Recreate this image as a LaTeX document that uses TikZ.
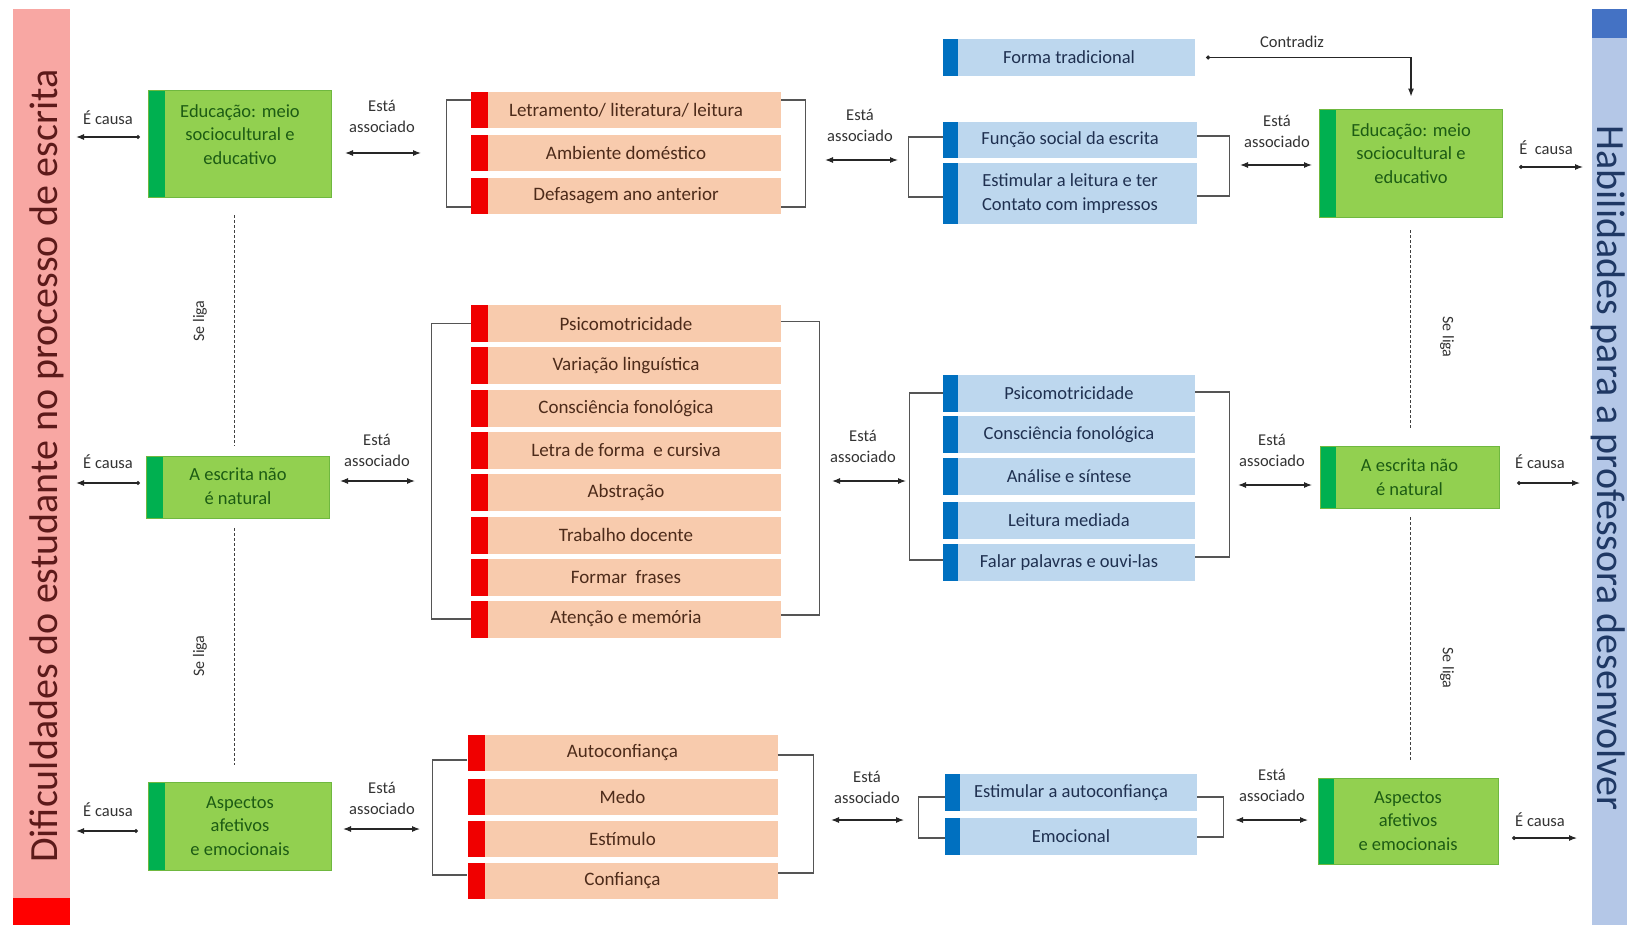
\documentclass[tikz,border=0pt]{standalone}
\usepackage{fontspec}
\setmainfont{Carlito}
\usetikzlibrary{arrows.meta,calc}
\definecolor{gfill}{HTML}{92D050}
\definecolor{gstripe}{HTML}{00B050}
\definecolor{gborder}{HTML}{6FB83F}
\definecolor{gtext}{HTML}{1D5C14}
\definecolor{rfill}{HTML}{F8CBAD}
\definecolor{rstripe}{HTML}{F00000}
\definecolor{rtext}{HTML}{4D2B1A}
\definecolor{bfill}{HTML}{BDD7EE}
\definecolor{bstripe}{HTML}{0070C0}
\definecolor{btext}{HTML}{1F3050}
\definecolor{pinkbar}{HTML}{F8A7A3}
\definecolor{redbar}{HTML}{FF0000}
\definecolor{ltxt}{HTML}{5C1A1A}
\definecolor{bluebar}{HTML}{B4C7E7}
\definecolor{bluetop}{HTML}{4472C4}
\definecolor{rtxt}{HTML}{1F3864}
\definecolor{lblc}{HTML}{333333}
\definecolor{brkc}{HTML}{555555}
\tikzset{
  gbox/.style={draw=gborder, line width=0.8pt, fill=gfill, minimum width=183pt, inner sep=0pt,
    path picture={\fill[gstripe] (path picture bounding box.north west) rectangle ([xshift=16pt]path picture bounding box.south west);}},
  gtxt/.style={text=gtext, align=center, font=\fontsize{18.5}{23.5}\selectfont, inner sep=0pt},
  rrow/.style={fill=rfill, text=rtext, minimum width=310pt, minimum height=36pt, inner sep=0pt,
    font=\fontsize{19}{23}\selectfont,
    path picture={\fill[rstripe] (path picture bounding box.north west) rectangle ([xshift=17pt]path picture bounding box.south west);}},
  brow/.style={fill=bfill, text=btext, minimum width=252pt, minimum height=37pt, inner sep=0pt, align=center,
    font=\fontsize{18.5}{24}\selectfont,
    path picture={\fill[bstripe] (path picture bounding box.north west) rectangle ([xshift=15pt]path picture bounding box.south west);}},
  lbl/.style={text=lblc, align=center, font=\fontsize{16.5}{21}\selectfont, inner sep=0pt},
  assoc/.style={{Latex[length=8pt,width=6pt]}-{Latex[length=8pt,width=6pt]}, line width=1.1pt, draw=black!85},
  causeL/.style={{Circle[length=4pt]}-{Latex[length=8pt,width=6pt]}, line width=1.1pt, draw=black!85},
  brk/.style={draw=brkc, line width=1.1pt},
  liga/.style={draw=black!75, line width=0.9pt, dash pattern=on 3pt off 2pt},
  ligatxt/.style={text=lblc, font=\fontsize{16}{19}\selectfont, inner sep=0pt},
}
\begin{document}
\begin{tikzpicture}[x=1pt,y=-1pt]
\useasboundingbox (0,0) rectangle (1627,925);
\fill[white] (0,0) rectangle (1627,925);
% side bars
\fill[pinkbar] (13,9) rectangle (70,898);
\fill[redbar] (13,898) rectangle (70,925);
\fill[bluebar] (1592,38) rectangle (1627,925);
\fill[bluetop] (1592,9) rectangle (1627,38);
\node[rotate=90, anchor=base, text=ltxt, font=\fontsize{40}{48}\selectfont, inner sep=0pt] (ltitle) at (57,466) {Dificuldades do estudante no processo de escrita};
\node[rotate=-90, anchor=base, text=rtxt, font=\fontsize{40}{48}\selectfont, inner sep=0pt] (rtitle) at (1597,468) {Habilidades para a professora desenvolver};

% left green boxes
\node[gbox, minimum height=107pt] (gA) at (240,143.5) {};
\node[gtxt] at ([yshift=9pt]gA.center) {Educação: meio\\sociocultural e\\educativo};
\node[gbox, minimum height=62pt] (gB) at (238,487) {};
\node[gtxt] at ([yshift=1pt]gB.center) {A escrita não\\é natural};
\node[gbox, minimum height=88pt] (gC) at (240,826) {};
\node[gtxt] at (gC.center) {Aspectos\\afetivos\\e emocionais};

% right green boxes
\node[gbox, minimum height=108pt] (hA) at (1411,163) {};
\node[gtxt] at ([yshift=9.5pt]hA.center) {Educação: meio\\sociocultural e\\educativo};
\node[gbox, minimum width=179pt, minimum height=62pt] (hB) at (1409.5,477) {};
\node[gtxt] at (hB.center) {A escrita não\\é natural};
\node[gbox, minimum width=180pt, minimum height=86pt] (hC) at (1408,821) {};
\node[gtxt] at (hC.center) {Aspectos\\afetivos\\e emocionais};

% red lists
\node[rrow] (r11) at (626,110) {Letramento/ literatura/ leitura};
\node[rrow] (r12) at (626,153) {Ambiente doméstico};
\node[rrow] (r13) at (626,196) {Defasagem ano anterior};

\node[rrow, minimum height=37pt] (r21) at (626,323.5) {Psicomotricidade};
\node[rrow, minimum height=37pt] (r22) at (626,365.5) {Variação linguística};
\node[rrow, minimum height=37pt] (r23) at (626,408.5) {Consciência fonológica};
\node[rrow, minimum height=37pt] (r24) at (626,450) {Letra de forma\ \ e cursiva};
\node[rrow, minimum height=37pt] (r25) at (626,492) {Abstração};
\node[rrow, minimum height=37pt] (r26) at (626,535) {Trabalho docente};
\node[rrow, minimum height=37pt] (r27) at (626,577) {Formar\ \ frases};
\node[rrow, minimum height=37pt] (r28) at (626,619) {Atenção e memória};

\node[rrow] (r31) at (622.5,752.5) {Autoconfiança};
\node[rrow] (r32) at (622.5,796.5) {Medo};
\node[rrow] (r33) at (622.5,838.5) {Estímulo};
\node[rrow] (r34) at (622.5,880.5) {Confiança};

% blue lists
\node[brow] (b0) at (1069,57.5) {Forma tradicional};
\node[brow, minimum width=254pt, minimum height=36pt] (b11) at (1070,140) {Função social da escrita};
\node[brow, minimum width=254pt, minimum height=61pt] (b12) at (1070,193.5) {Estimular a leitura e ter\\Contato com impressos};

\node[brow] (b21) at (1069,393) {Psicomotricidade};
\node[brow] (b22) at (1069,434.5) {Consciência fonológica};
\node[brow] (b23) at (1069,476.5) {Análise e síntese};
\node[brow] (b24) at (1069,520) {Leitura mediada};
\node[brow] (b25) at (1069,562.5) {Falar palavras e ouvi-las};

\node[brow] (b31) at (1071,792.5) {Estimular a autoconfiança};
\node[brow] (b32) at (1071,836) {Emocional};

% brackets
\draw[brk] ([yshift=10pt]r11.west) -- ++(-24,0) |- ([yshift=-11pt]r13.west);
\draw[brk] ([yshift=10pt]r11.east) -- ++(24,0) |- ([yshift=-11pt]r13.east);
\draw[brk] (r21.west) -- ++(-39,0) |- (r28.west);
\draw[brk] ([yshift=2pt]r21.east) -- ++(38,0) |- ([yshift=4pt]r28.east);
\draw[brk] ([yshift=-7.5pt]r31.west) -- ++(-34.5,0) |- ([yshift=5.5pt]r34.west);
\draw[brk] ([yshift=-2.5pt]r31.east) -- ++(35.5,0) |- ([yshift=7.5pt]r34.east);

\draw[brk] ([yshift=3pt]b11.west) -- ++(-34,0) |- ([yshift=-3.5pt]b12.west);
\draw[brk] ([yshift=4pt]b11.east) -- ++(32,0) |- ([yshift=-2.5pt]b12.east);
\draw[brk] (b21.west) -- ++(-33,0) |- ([yshift=2.5pt]b25.west);
\draw[brk] ([yshift=1pt]b21.east) -- ++(34,0) |- ([yshift=5.5pt]b25.east);
\draw[brk] ([yshift=-4.5pt]b31.west) -- ++(-26,0) |- ([yshift=-2pt]b32.west);
\draw[brk] ([yshift=-4.5pt]b31.east) -- ++(26,0) |- ([yshift=-1pt]b32.east);

% "Está associado" arrows
\coordinate (a1a) at (345,153);  \coordinate (a1b) at (421,153);
\coordinate (a2a) at (825,160);  \coordinate (a2b) at (898,160);
\coordinate (a3a) at (1240,165); \coordinate (a3b) at (1312,165);
\coordinate (a4a) at (340,481);  \coordinate (a4b) at (415,481);
\coordinate (a5a) at (832,481);  \coordinate (a5b) at (906,481);
\coordinate (a6a) at (1238,485); \coordinate (a6b) at (1312,485);
\coordinate (a7a) at (343,829);  \coordinate (a7b) at (420,829);
\coordinate (a8a) at (831,820);  \coordinate (a8b) at (904,820);
\coordinate (a9a) at (1235,820); \coordinate (a9b) at (1308,820);
\foreach \i in {1,...,9} {\draw[assoc] (a\i a) -- (a\i b);}
\node[lbl] (l1) at (382,116) {Está\\associado};
\node[lbl] (l2) at (860,125) {Está\\associado};
\node[lbl] (l3) at (1277,131) {Está\\associado};
\node[lbl] (l4) at (377,450) {Está\\associado};
\node[lbl] (l5) at (863,446) {Está\\associado};
\node[lbl] (l6) at (1272,450) {Está\\associado};
\node[lbl] (l7) at (382,798) {Está\\associado};
\node[lbl] (l8) at (867,787) {Está\\associado};
\node[lbl] (l9) at (1272,785) {Está\\associado};

% "É causa" arrows
\coordinate (c1a) at (140,137);  \coordinate (c1b) at (76,137);
\coordinate (c2a) at (140,483);  \coordinate (c2b) at (76,483);
\coordinate (c3a) at (138,831);  \coordinate (c3b) at (76,831);
\coordinate (c4a) at (1519,167); \coordinate (c4b) at (1583,167);
\coordinate (c5a) at (1517,483); \coordinate (c5b) at (1580,483);
\coordinate (c6a) at (1512,838); \coordinate (c6b) at (1577,838);
\foreach \i in {1,...,6} {\draw[causeL] (c\i a) -- (c\i b);}
\node[lbl] (k1) at (108,118) {É causa};
\node[lbl] (k2) at (108,462) {É causa};
\node[lbl] (k3) at (108,810) {É causa};
\node[lbl] (k4) at (1546,148) {É\ \ causa};
\node[lbl] (k5) at (1540,462) {É causa};
\node[lbl] (k6) at (1540,820) {É causa};

% Contradiz
\draw[{Circle[length=4pt]}-{Latex[length=8pt,width=6pt]}, line width=1.3pt, draw=black!85]
  ([xshift=11pt]b0.east) -| ([yshift=12pt]hA.north);
\node[lbl] (ct) at (1292,42) {Contradiz};

% Se liga dotted lines
\draw[liga] ([xshift=-6pt,yshift=-18pt]gA.south) -- ([xshift=-4pt,yshift=10pt]gB.north);
\draw[liga] ([xshift=-4pt,yshift=-10pt]gB.south) -- ([xshift=-6pt,yshift=17pt]gC.north);
\draw[liga] ([xshift=-1pt,yshift=-13pt]hA.south) -- ([xshift=0.5pt,yshift=16pt]hB.north);
\draw[liga] ([xshift=0.5pt,yshift=-9pt]hB.south) -- ([xshift=2pt,yshift=16pt]hC.north);
\node[ligatxt, rotate=90] (s1) at (200,321) {Se liga};
\node[ligatxt, rotate=90] (s2) at (200,656) {Se liga};
\node[ligatxt, rotate=-90] (s3) at (1447,337) {Se liga};
\node[ligatxt, rotate=-90] (s4) at (1447,668) {Se liga};
\end{tikzpicture}
\end{document}
